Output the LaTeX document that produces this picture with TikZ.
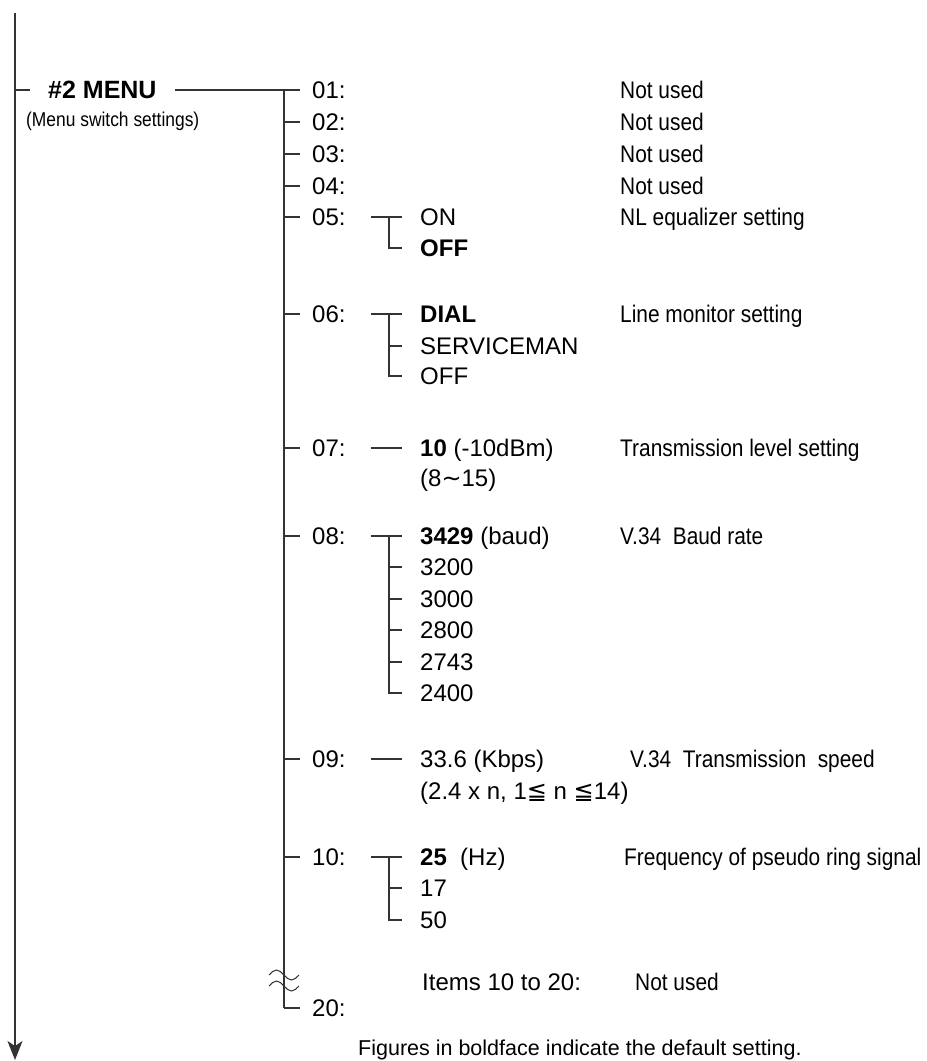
\documentclass[tikz,border=0pt]{standalone}
\usepackage{fontspec}
\setmainfont{Liberation Sans}
\newfontfamily\narrowfont[FakeStretch=0.87]{Liberation Sans}
\newfontfamily\symfont{DejaVu Sans}
\usetikzlibrary{positioning, arrows.meta, calc}

\begin{document}
\begin{tikzpicture}[
  x=1pt, y=-1pt,
  every node/.style={inner sep=0pt, anchor=west, text height=22pt, text depth=5pt,
                     font=\fontsize{24}{28}\selectfont},
  desc/.style={font=\fontsize{24}{28}\selectfont\narrowfont},
  bold/.style={font=\fontsize{24}{28}\selectfont\bfseries},
  ln/.style={line width=1.1pt, draw=black!80},
  sub/.style={ln, shorten >=18pt},
  br/.style={ln, shorten <=25pt, shorten >=18pt},
  arr/.style={ln, -{Stealth[length=19pt, width=15pt, inset=5pt]}}
]
\useasboundingbox (0,0) rectangle (927,1061);

% left line
\coordinate (top) at (15,13);
\coordinate (bot) at (15,1060);
\draw[arr] (top) -- (bot);

% menu head
\node[font=\fontsize{25}{28}\selectfont\bfseries] (menu) at (48,90) {\#2 MENU};
\node[font=\fontsize{20}{24}\selectfont\narrowfont] (menusub) at (26,118) {(Menu switch settings)};
\coordinate (m0) at (top |- menu.west);
\draw[ln, shorten >=18pt] (m0) -- (menu.west);

% items on the trunk
\coordinate (t0) at (284,90);
\coordinate (dcol) at (620,0);
\foreach \n/\y in {01/90, 02/122, 03/154, 04/186, 05/217, 06/314, 07/448,
                   08/536, 09/759, 10/857, 20/1008} {
  \node (i\n) at (312,\y) {\n:};
  \draw[ln, shorten >=12pt] (t0 |- i\n.west) -- (i\n.west);
}
\draw[ln, shorten <=18pt] (menu.east) -- (t0);
\draw[ln] (t0) -- (t0 |- i20.west);
\foreach \n in {01, 02, 03, 04}
  \node[desc] (d\n) at (dcol |- i\n.west) {Not used};

% 05
\node (o05a) at (420,217) {ON};
\node[bold] (o05b) at (420,248) {OFF};
\draw[br] (i05.east) -- (o05a.west);
\coordinate (b05) at ($(o05a.west)+(-31,0)$);
\draw[sub] (b05) |- (o05b.west);
\node[desc] (d05) at (dcol |- i05.west) {NL equalizer\ setting};

% 06
\node[bold] (o06a) at (420,314) {DIAL};
\node (o06b) at (420,346) {SERVICEMAN};
\node (o06c) at (420,376) {OFF};
\draw[br] (i06.east) -- (o06a.west);
\coordinate (b06) at ($(o06a.west)+(-31,0)$);
\draw[sub] (b06) |- (o06c.west);
\draw[sub] (b06 |- o06b.west) -- (o06b.west);
\node[desc] (d06) at (dcol |- i06.west) {Line monitor setting};

% 07
\node (o07a) at (420,448) {\textbf{10} (-10dBm)};
\node (o07b) at (420,478) {(8{\symfont ∼}15)};
\draw[br] (i07.east) -- (o07a.west);
\node[desc] (d07) at (dcol |- i07.west) {Transmission\ level\ setting};

% 08
\node (o08a) at (420,536) {\textbf{3429} (baud)};
\foreach \k/\v/\y in {b/3200/567, c/3000/599, d/2800/630, e/2743/662, f/2400/693}
  \node (o08\k) at (420,\y) {\v};
\draw[br] (i08.east) -- (o08a.west);
\coordinate (b08) at ($(o08a.west)+(-31,0)$);
\draw[sub] (b08) |- (o08f.west);
\foreach \k in {b, c, d, e}
  \draw[sub] (b08 |- o08\k.west) -- (o08\k.west);
\node[desc] (d08) at (dcol |- i08.west) {V.34\ \ Baud rate};

% 09
\node (o09a) at (420,759) {33.6 (Kbps)};
\node (o09b) at (420,791) {(2.4 x n, 1{\symfont ≦} n {\symfont ≦}14)};
\draw[br] (i09.east) -- (o09a.west);
\node[desc] (d09) at ($(dcol |- i09.west)+(10,0)$) {V.34\ \ Transmission\ \ speed};

% 10
\node (o10a) at (420,857) {\textbf{25}\ \ (Hz)};
\node (o10b) at (420,888) {17};
\node (o10c) at (420,920) {50};
\draw[br] (i10.east) -- (o10a.west);
\coordinate (b10) at ($(o10a.west)+(-31,0)$);
\draw[sub] (b10) |- (o10c.west);
\draw[sub] (b10 |- o10b.west) -- (o10b.west);
\node[desc] (d10) at ($(dcol |- i10.west)+(4,0)$) {Frequency of pseudo ring signal};

% break and 20
\coordinate (brk) at (284,975);
\foreach \dy in {0, 11}
  \draw[ln, line width=1pt] ($(brk)+(-15,\dy)$) sin ++(7.5,-5) cos ++(7.5,5)
    sin ++(7.5,5) cos ++(7.5,-5);
\node (items) at (422,982) {Items 10 to 20:};
\node[desc] (nu) at (635,982) {Not used};
\node[font=\fontsize{21.5}{26}\selectfont] (note) at (358,1047)
  {Figures in boldface indicate the default setting.};
\end{tikzpicture}
\end{document}
